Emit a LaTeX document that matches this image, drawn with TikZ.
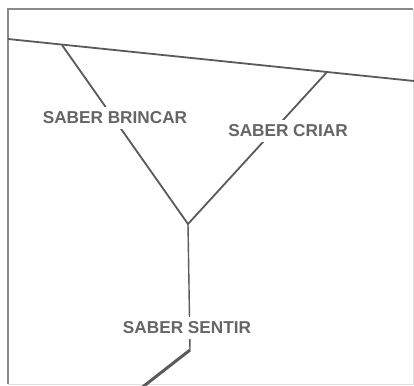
\documentclass[tikz,border=0pt]{standalone}
\usepackage{fontspec}
\setmainfont{Liberation Sans}
\definecolor{lncol}{HTML}{5A5A5A}
\definecolor{txtcol}{HTML}{656565}
\definecolor{frcol}{HTML}{8A8A8A}
\definecolor{frlight}{HTML}{DDDDDD}
\begin{document}
\begin{tikzpicture}[x=1pt,y=-1pt,
  ln/.style={draw=lncol,line width=1.8pt,line join=miter},
  lbl/.style={fill=white,text=txtcol,font=\fontsize{17.2}{19}\selectfont\bfseries,inner xsep=1pt,inner ysep=5pt}]
\useasboundingbox (0,0) rectangle (414,385);
\fill[white] (0,0) rectangle (414,385);
% frame
\coordinate (f1) at (8,9);
\coordinate (f2) at (413,9);
\coordinate (f3) at (413,384);
\coordinate (f4) at (8,384);
\draw[frlight,line width=1pt] (f2) -- (f3) -- (f4);
\draw[frcol,line width=2pt] (f4) -- (f1) -- (f2);
% top slanted line
\coordinate (tl) at (8,39);
\coordinate (tr) at (414,81);
\draw[ln] (tl) -- (tr);
% branches
\coordinate (b1) at (62,45);
\coordinate (b2) at (327,72);
\coordinate (v) at (188,224);
\coordinate (k) at (190,350);
\coordinate (bl) at (140,389);
\draw[ln] (b1) -- (v) -- (b2);
\draw[draw=lncol,line width=1.4pt] (v) -- (k);
\draw[draw=lncol,line width=3pt] (k) -- (bl);
% labels
\node[lbl] (brincar) at (115,118) {SABER BRINCAR};
\node[lbl] (criar) at (288,131) {SABER CRIAR};
\node[lbl] (sentir) at (187,328) {SABER SENTIR};
\end{tikzpicture}
\end{document}
